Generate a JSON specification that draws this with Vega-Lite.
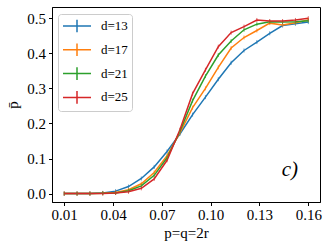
{
  "$schema": "https://vega.github.io/schema/vega-lite/v6.json",
  "autosize": {"type": "none"},
  "padding": {"left": 52, "top": 7, "right": 12, "bottom": 47},
  "width": 268,
  "height": 195,
  "config": {
    "font": "Liberation Serif",
    "view": {"stroke": "#000000", "strokeWidth": 1},
    "axis": {
      "grid": false,
      "domainColor": "#000000",
      "tickColor": "#000000",
      "tickSize": 3.5,
      "labelColor": "#000000",
      "titleColor": "#000000",
      "labelFontSize": 15,
      "titleFontSize": 15,
      "titleFontWeight": "normal",
      "labelFont": "Liberation Serif",
      "titleFont": "Liberation Serif",
      "labelOverlap": false
    }
  },
  "datasets": {
    "curves": [
      {"p": 0.0100, "pbar": 0.000, "d": "d=13"}, {"p": 0.0179, "pbar": 0.000, "d": "d=13"}, {"p": 0.0258, "pbar": 0.0005, "d": "d=13"}, {"p": 0.0337, "pbar": 0.002, "d": "d=13"}, {"p": 0.0416, "pbar": 0.007, "d": "d=13"}, {"p": 0.0495, "pbar": 0.020, "d": "d=13"}, {"p": 0.0574, "pbar": 0.043, "d": "d=13"}, {"p": 0.0653, "pbar": 0.076, "d": "d=13"}, {"p": 0.0732, "pbar": 0.120, "d": "d=13"}, {"p": 0.0811, "pbar": 0.170, "d": "d=13"}, {"p": 0.0889, "pbar": 0.225, "d": "d=13"}, {"p": 0.0968, "pbar": 0.275, "d": "d=13"}, {"p": 0.1047, "pbar": 0.326, "d": "d=13"}, {"p": 0.1126, "pbar": 0.373, "d": "d=13"}, {"p": 0.1205, "pbar": 0.408, "d": "d=13"}, {"p": 0.1284, "pbar": 0.432, "d": "d=13"}, {"p": 0.1363, "pbar": 0.457, "d": "d=13"}, {"p": 0.1442, "pbar": 0.479, "d": "d=13"}, {"p": 0.1521, "pbar": 0.484, "d": "d=13"}, {"p": 0.1600, "pbar": 0.489, "d": "d=13"},
      {"p": 0.0100, "pbar": 0.000, "d": "d=17"}, {"p": 0.0179, "pbar": 0.000, "d": "d=17"}, {"p": 0.0258, "pbar": 0.000, "d": "d=17"}, {"p": 0.0337, "pbar": 0.001, "d": "d=17"}, {"p": 0.0416, "pbar": 0.003, "d": "d=17"}, {"p": 0.0495, "pbar": 0.011, "d": "d=17"}, {"p": 0.0574, "pbar": 0.028, "d": "d=17"}, {"p": 0.0653, "pbar": 0.060, "d": "d=17"}, {"p": 0.0732, "pbar": 0.108, "d": "d=17"}, {"p": 0.0811, "pbar": 0.173, "d": "d=17"}, {"p": 0.0889, "pbar": 0.245, "d": "d=17"}, {"p": 0.0968, "pbar": 0.300, "d": "d=17"}, {"p": 0.1047, "pbar": 0.360, "d": "d=17"}, {"p": 0.1126, "pbar": 0.415, "d": "d=17"}, {"p": 0.1205, "pbar": 0.445, "d": "d=17"}, {"p": 0.1284, "pbar": 0.465, "d": "d=17"}, {"p": 0.1363, "pbar": 0.486, "d": "d=17"}, {"p": 0.1442, "pbar": 0.481, "d": "d=17"}, {"p": 0.1521, "pbar": 0.487, "d": "d=17"}, {"p": 0.1600, "pbar": 0.495, "d": "d=17"},
      {"p": 0.0100, "pbar": 0.000, "d": "d=21"}, {"p": 0.0179, "pbar": 0.000, "d": "d=21"}, {"p": 0.0258, "pbar": 0.000, "d": "d=21"}, {"p": 0.0337, "pbar": 0.001, "d": "d=21"}, {"p": 0.0416, "pbar": 0.002, "d": "d=21"}, {"p": 0.0495, "pbar": 0.008, "d": "d=21"}, {"p": 0.0574, "pbar": 0.022, "d": "d=21"}, {"p": 0.0653, "pbar": 0.052, "d": "d=21"}, {"p": 0.0732, "pbar": 0.102, "d": "d=21"}, {"p": 0.0811, "pbar": 0.177, "d": "d=21"}, {"p": 0.0889, "pbar": 0.265, "d": "d=21"}, {"p": 0.0968, "pbar": 0.335, "d": "d=21"}, {"p": 0.1047, "pbar": 0.395, "d": "d=21"}, {"p": 0.1126, "pbar": 0.435, "d": "d=21"}, {"p": 0.1205, "pbar": 0.467, "d": "d=21"}, {"p": 0.1284, "pbar": 0.483, "d": "d=21"}, {"p": 0.1363, "pbar": 0.490, "d": "d=21"}, {"p": 0.1442, "pbar": 0.489, "d": "d=21"}, {"p": 0.1521, "pbar": 0.490, "d": "d=21"}, {"p": 0.1600, "pbar": 0.493, "d": "d=21"},
      {"p": 0.0100, "pbar": 0.000, "d": "d=25"}, {"p": 0.0179, "pbar": 0.000, "d": "d=25"}, {"p": 0.0258, "pbar": 0.000, "d": "d=25"}, {"p": 0.0337, "pbar": 0.000, "d": "d=25"}, {"p": 0.0416, "pbar": 0.002, "d": "d=25"}, {"p": 0.0495, "pbar": 0.005, "d": "d=25"}, {"p": 0.0574, "pbar": 0.015, "d": "d=25"}, {"p": 0.0653, "pbar": 0.042, "d": "d=25"}, {"p": 0.0732, "pbar": 0.095, "d": "d=25"}, {"p": 0.0811, "pbar": 0.182, "d": "d=25"}, {"p": 0.0889, "pbar": 0.285, "d": "d=25"}, {"p": 0.0968, "pbar": 0.353, "d": "d=25"}, {"p": 0.1047, "pbar": 0.419, "d": "d=25"}, {"p": 0.1126, "pbar": 0.459, "d": "d=25"}, {"p": 0.1205, "pbar": 0.476, "d": "d=25"}, {"p": 0.1284, "pbar": 0.495, "d": "d=25"}, {"p": 0.1363, "pbar": 0.492, "d": "d=25"}, {"p": 0.1442, "pbar": 0.492, "d": "d=25"}, {"p": 0.1521, "pbar": 0.495, "d": "d=25"}, {"p": 0.1600, "pbar": 0.500, "d": "d=25"}
    ],
    "note": [{"label": "c)"}]
  },
  "layer": [
    {
      "data": {"name": "curves"},
      "mark": {"type": "line", "strokeWidth": 1.5},
      "encoding": {
        "x": {
          "field": "p", "type": "quantitative",
          "scale": {"domain": [0.0025, 0.1672], "nice": false, "zero": false},
          "axis": {"values": [0.01, 0.04, 0.07, 0.10, 0.13, 0.16], "format": ".2f", "title": "p=q=2r", "labelPadding": 2, "titlePadding": 3, "labelFlush": false}
        },
        "y": {
          "field": "pbar", "type": "quantitative",
          "scale": {"domain": [-0.024, 0.532], "nice": false, "zero": false},
          "axis": {"values": [0, 0.1, 0.2, 0.3, 0.4, 0.5], "tickCount": 6, "format": ".1f", "title": "p̄", "labelPadding": 3, "titlePadding": 6, "labelFlush": false, "labelOverlap": false}
        },
        "color": {
          "field": "d", "type": "nominal",
          "scale": {"domain": ["d=13", "d=17", "d=21", "d=25"], "range": ["#1f77b4", "#ff7f0e", "#2ca02c", "#d62728"]},
          "legend": {
            "title": null,
            "orient": "none",
            "legendX": 6,
            "legendY": 7,
            "padding": 4,
            "symbolType": "M-1,0H3M1,-0.9V0.9",
            "symbolSize": 196,
            "symbolStrokeWidth": 1.5,
            "symbolFillColor": "transparent",
            "labelFontSize": 13,
            "labelFont": "Liberation Serif",
            "labelColor": "#000000",
            "labelOffset": 23,
            "rowPadding": 3.8,
            "strokeColor": "#cccccc",
            "fillColor": "rgba(255,255,255,0.8)",
            "cornerRadius": 3
          }
        }
      }
    },
    {
      "data": {"name": "curves"},
      "mark": {"type": "point", "shape": "M0,-1V1", "size": 16, "strokeWidth": 1, "filled": false},
      "encoding": {
        "x": {"field": "p", "type": "quantitative"},
        "y": {"field": "pbar", "type": "quantitative"},
        "color": {"field": "d", "type": "nominal", "legend": null}
      }
    },
    {
      "data": {"name": "note"},
      "mark": {"type": "text", "fontSize": 21, "fontStyle": "italic", "font": "Liberation Serif", "color": "#000000", "align": "center", "baseline": "middle"},
      "encoding": {
        "x": {"datum": 0.1487, "type": "quantitative"},
        "y": {"datum": 0.068, "type": "quantitative"},
        "text": {"field": "label"}
      }
    }
  ]
}
